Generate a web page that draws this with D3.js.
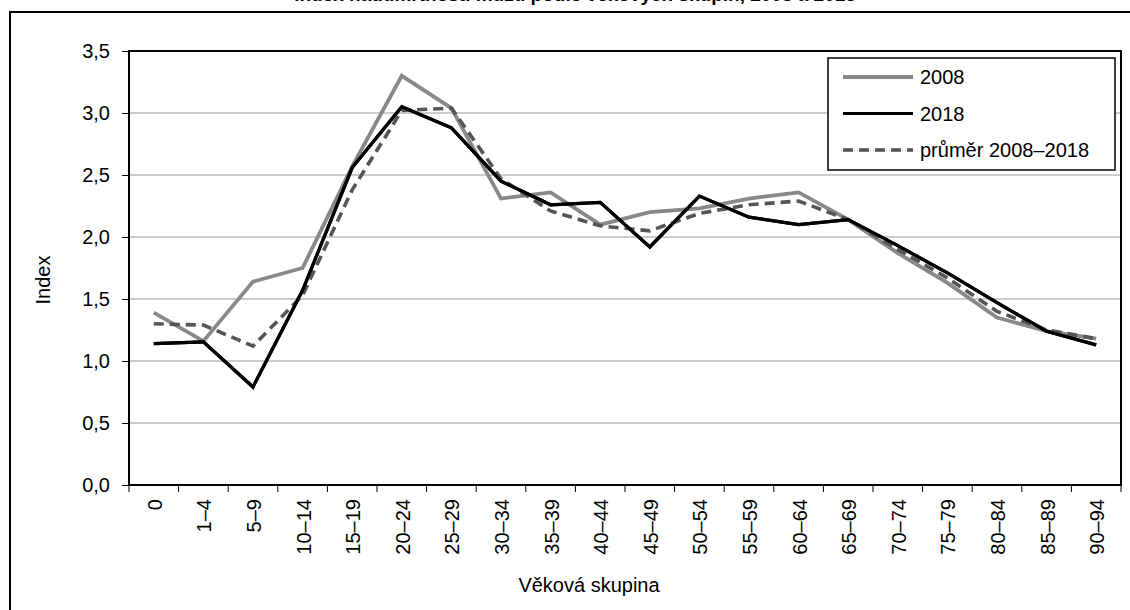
<!DOCTYPE html>
<html><head><meta charset="utf-8">
<script src="https://cdn.jsdelivr.net/npm/d3@7"></script>
<style>body{margin:0;background:#fff}svg{display:block}text{font-family:"Liberation Sans",Arial,sans-serif}</style>
</head><body>
<svg id="c" width="1130" height="610"></svg>
<script>
const categories = ["0","1–4","5–9","10–14","15–19","20–24","25–29","30–34","35–39","40–44","45–49","50–54","55–59","60–64","65–69","70–74","75–79","80–84","85–89","90–94"];
const s2008 = [1.39,1.16,1.64,1.75,2.57,3.30,3.04,2.31,2.36,2.10,2.20,2.23,2.31,2.36,2.14,1.87,1.63,1.35,1.24,1.18];
const s2018 = [1.14,1.155,0.79,1.57,2.56,3.05,2.88,2.45,2.26,2.28,1.92,2.33,2.16,2.10,2.14,1.93,1.71,1.47,1.24,1.13];
const sAvg  = [1.30,1.29,1.12,1.53,2.38,3.02,3.04,2.47,2.21,2.09,2.05,2.19,2.26,2.29,2.14,1.90,1.67,1.40,1.25,1.18];
const yTicks = [0,0.5,1,1.5,2,2.5,3,3.5];
const seriesNames = ["2008","2018","průměr 2008–2018"];
const titleText = "Index nadúmrtnosti mužů podle věkových skupin, 2008 a 2018";

const svg = d3.select("#c");
const FF = "Liberation Sans, Arial, sans-serif";
const L = 129, R = 1121, T = 51, B = 485;
const x = d3.scaleBand().domain(categories).range([L, R]);
const y = d3.scaleLinear().domain([0, 3.5]).range([B, T]);
const fmt = v => d3.format(".1f")(v).replace(".", ",");

// outer frame
svg.append("rect").attr("x", 10).attr("y", 12).attr("width", 1130).attr("height", 620)
  .attr("fill", "none").attr("stroke", "#000").attr("stroke-width", 2);
// title (cut off at the top edge, as in the reference)
svg.append("text").attr("x", 575).attr("y", 1).attr("text-anchor", "middle")
  .attr("font-size", 19).attr("font-weight", "bold").text(titleText);

// gridlines
svg.append("g").selectAll("line").data(yTicks.filter(v => v > 0 && v < 3.5)).join("line")
  .attr("x1", L).attr("x2", R).attr("y1", d => y(d)).attr("y2", d => y(d))
  .attr("stroke", "#999").attr("stroke-width", 1);

// y axis
const ya = svg.append("g").attr("transform", `translate(${L},0)`)
  .call(d3.axisLeft(y).tickValues(yTicks).tickFormat(fmt).tickSize(7).tickPadding(12));
ya.select(".domain").remove();
ya.selectAll("text").attr("font-size", 20).attr("fill", "#000").attr("font-family", FF);
ya.selectAll("line").attr("stroke", "#000");

// x axis
const xa = svg.append("g").attr("transform", `translate(0,${B})`)
  .call(d3.axisBottom(x).tickSize(0).tickFormat(d => d));
xa.select(".domain").remove();
xa.selectAll("text").attr("font-size", 20).attr("fill", "#000").attr("font-family", FF)
  .attr("transform", "rotate(-90)").attr("text-anchor", "end")
  .attr("x", -14).attr("y", 1).attr("dy", "0.35em");
// boundary ticks
const bounds = categories.map(c => x(c)).concat([R]);
svg.append("g").selectAll("line").data(bounds).join("line")
  .attr("x1", d => d).attr("x2", d => d).attr("y1", B).attr("y2", B + 7)
  .attr("stroke", "#000").attr("stroke-width", 1);

// plot border
svg.append("rect").attr("x", L).attr("y", T).attr("width", R - L).attr("height", B - T)
  .attr("fill", "none").attr("stroke", "#000").attr("stroke-width", 2);

// lines
const line = d3.line().x((d, i) => x(categories[i]) + x.bandwidth() / 2).y(d => y(d));
const styles = [
  {data: s2008, color: "#888", w: 3.8, dash: null},
  {data: s2018, color: "#000", w: 3.2, dash: null},
  {data: sAvg, color: "#555", w: 3.6, dash: "10,6"}
];
styles.forEach(s => {
  svg.append("path").datum(s.data).attr("d", line).attr("fill", "none")
    .attr("stroke", s.color).attr("stroke-width", s.w)
    .attr("stroke-dasharray", s.dash).attr("stroke-linejoin", "miter");
});
svg.append("path").datum(s2018).attr("d", line).attr("fill", "none")
  .attr("stroke", "#000").attr("stroke-width", 3.2);

// legend
const lg = svg.append("g");
lg.append("rect").attr("x", 828).attr("y", 58).attr("width", 287).attr("height", 112)
  .attr("fill", "#fff").attr("stroke", "#000").attr("stroke-width", 1.5);
seriesNames.forEach((n, i) => {
  const yy = 77 + i * 36.5;
  lg.append("line").attr("x1", 843).attr("x2", 913).attr("y1", yy).attr("y2", yy)
    .attr("stroke", styles[i].color).attr("stroke-width", styles[i].w)
    .attr("stroke-dasharray", styles[i].dash);
  lg.append("text").attr("x", 920).attr("y", yy).attr("dy", "0.36em")
    .attr("font-size", 20).text(n);
});

// axis titles
svg.append("text").attr("transform", `translate(50,280) rotate(-90)`)
  .attr("text-anchor", "middle").attr("font-size", 20).text("Index");
svg.append("text").attr("x", 589).attr("y", 592).attr("text-anchor", "middle")
  .attr("font-size", 20).text("Věková skupina");
</script>
</body></html>
